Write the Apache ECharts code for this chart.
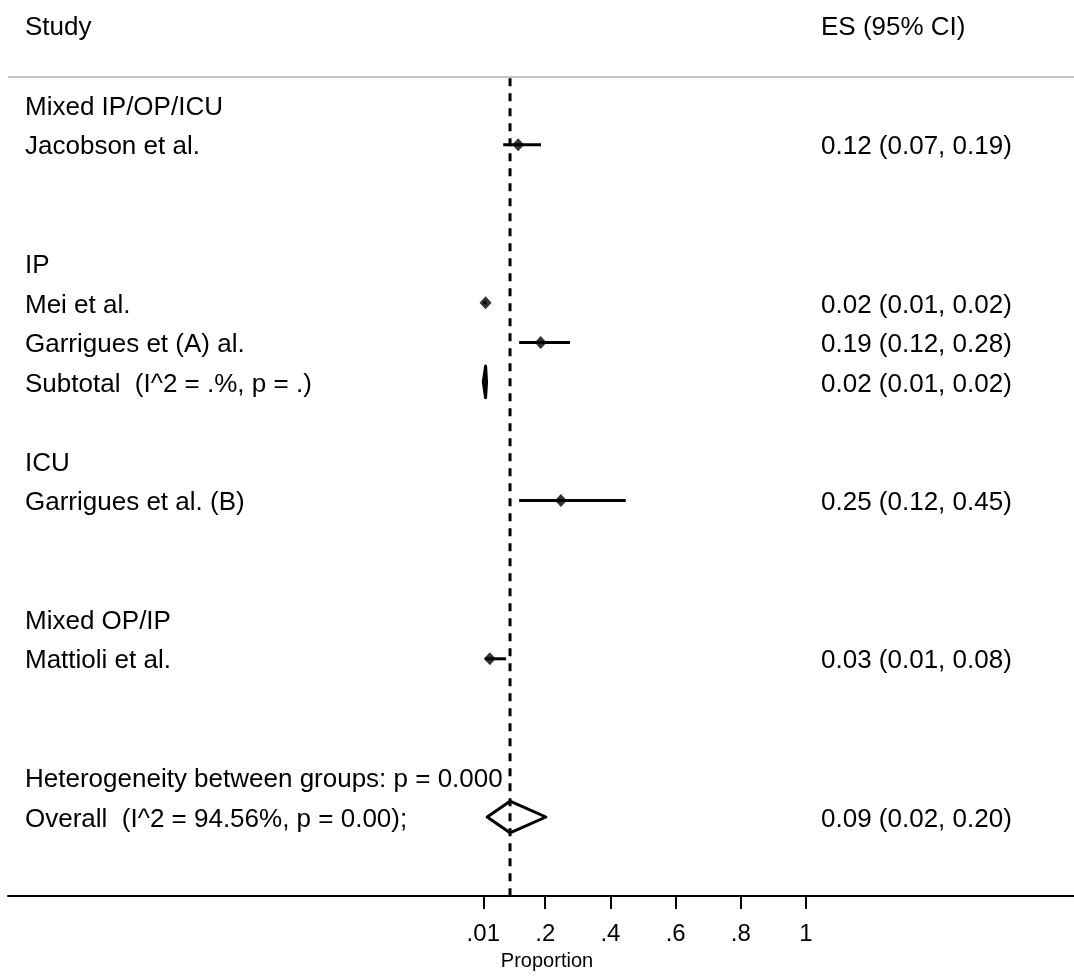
<!DOCTYPE html>
<html>
<head>
<meta charset="utf-8">
<script src="https://cdn.jsdelivr.net/npm/echarts@6/dist/echarts.min.js"></script>
<style>
html,body{margin:0;padding:0;background:#fff;}
#chart{width:1074px;height:976px;}
</style>
</head>
<body>
<div id="chart"></div>
<script>
// ---- data ----
const labelTexts = [
  'Mixed IP/OP/ICU', 'Jacobson et al.', 'IP', 'Mei et al.', 'Garrigues et (A) al.',
  'Subtotal  (I^2 = .%, p = .)', 'ICU', 'Garrigues et al. (B)', 'Mixed OP/IP',
  'Mattioli et al.', 'Heterogeneity between groups: p = 0.000', 'Overall  (I^2 = 94.56%, p = 0.00);'
];
const labelRows = [0, 1, 4, 5, 6, 7, 9, 10, 13, 14, 17, 18];
const esTexts = [
  '', '0.12 (0.07, 0.19)', '', '0.02 (0.01, 0.02)', '0.19 (0.12, 0.28)',
  '0.02 (0.01, 0.02)', '', '0.25 (0.12, 0.45)', '', '0.03 (0.01, 0.08)', '', '0.09 (0.02, 0.20)'
];

const studyRows = [1, 5, 6, 10, 14];
const studyES = [0.117, 0.017, 0.186, 0.248, 0.030];
const studyLo = [0.071, 0.010, 0.120, 0.120, 0.015];
const studyHi = [0.187, 0.020, 0.276, 0.447, 0.080];

const pooledRows = [7, 18];
const pooledES = [0.017, 0.092];
const pooledLo = [0.010, 0.022];
const pooledHi = [0.020, 0.202];

const overallES = 0.092;
const tickValues = [0.01, 0.2, 0.4, 0.6, 0.8, 1];
const tickLabels = ['.01', '.2', '.4', '.6', '.8', '1'];

// ---- chart ----
const FONT = '"Liberation Sans", Arial, Helvetica, sans-serif';
const chart = echarts.init(document.getElementById('chart'), null, {renderer: 'canvas'});

const ciData = studyRows.map((r, i) => [r, studyLo[i], studyHi[i]]);
const pointData = studyRows.map((r, i) => [studyES[i], r]);
const diamondData = pooledRows.map((r, i) => [r, pooledLo[i], pooledES[i], pooledHi[i]]);
const textData = labelRows.map((r, i) => [r, i]);

const option = {
  animation: false,
  backgroundColor: '#fff',
  grid: {left: 8, right: 0, top: 6.2, bottom: 72, containLabel: false},
  xAxis: {
    type: 'value',
    min: -1.448,
    max: 1.822,
    splitLine: {show: false},
    axisLine: {show: true, onZero: false, lineStyle: {color: '#000', width: 2}},
    axisTick: {show: true, customValues: tickValues, length: 13, lineStyle: {color: '#000', width: 2}},
    axisLabel: {
      show: true, customValues: tickValues, margin: 26,
      color: '#000', fontSize: 24, fontFamily: FONT,
      formatter: v => { const k = tickValues.findIndex(t => Math.abs(t - v) < 1e-9); return k >= 0 ? tickLabels[k] : ''; }
    },
    name: 'Proportion',
    nameLocation: 'middle',
    nameGap: 53,
    nameTextStyle: {color: '#000', fontSize: 20, fontFamily: FONT, padding: [0, 0, 0, 12]}
  },
  yAxis: {
    type: 'value', inverse: true, min: -2.5, max: 20, show: false
  },
  graphic: [
    {type: 'text', left: 25, top: 15, style: {text: 'Study', fontSize: 26, fontFamily: FONT, fill: '#000'}},
    {type: 'text', left: 821, top: 15, style: {text: 'ES (95% CI)', fontSize: 26, fontFamily: FONT, fill: '#000'}},
    {type: 'line', shape: {x1: 8, y1: 77, x2: 1074, y2: 77}, style: {stroke: '#c4c4c4', lineWidth: 2}}
  ],
  series: [
    {
      type: 'custom', name: 'overallLine',
      data: [[overallES]],
      renderItem: (params, api) => {
        const p1 = api.coord([api.value(0), -0.68]);
        const p2 = api.coord([api.value(0), 20]);
        return {type: 'line', shape: {x1: p1[0], y1: p1[1], x2: p2[0], y2: p2[1]},
          style: {stroke: '#000', lineWidth: 3, lineDash: [8, 7]}};
      },
      z: 1
    },
    {
      type: 'custom', name: 'ci',
      data: ciData,
      renderItem: (params, api) => {
        const a = api.coord([api.value(1), api.value(0)]);
        const b = api.coord([api.value(2), api.value(0)]);
        return {type: 'line', shape: {x1: a[0], y1: a[1], x2: b[0], y2: b[1]},
          style: {stroke: '#000', lineWidth: 3}};
      },
      z: 2
    },
    {
      type: 'scatter', name: 'es',
      data: pointData,
      symbol: 'diamond', symbolSize: [12, 13],
      itemStyle: {color: '#000'},
      z: 3
    },
    {
      type: 'custom', name: 'pooled',
      data: diamondData,
      renderItem: (params, api) => {
        const r = api.value(0);
        const L = api.coord([api.value(1), r]);
        const R = api.coord([api.value(3), r]);
        const T = api.coord([api.value(2), r - 0.4]);
        const B = api.coord([api.value(2), r + 0.4]);
        return {type: 'polygon', shape: {points: [[L[0], L[1]], [T[0], T[1]], [R[0], R[1]], [B[0], B[1]]]},
          style: {fill: 'none', stroke: '#000', lineWidth: 3, lineJoin: 'round'}};
      },
      z: 3
    },
    {
      type: 'custom', name: 'texts',
      data: textData,
      renderItem: (params, api) => {
        const i = api.value(1);
        const y = api.coord([0, api.value(0)])[1] + 2.5;
        const children = [{type: 'text', x: 25, y: y,
          style: {text: labelTexts[i], fontSize: 26, fontFamily: FONT, fill: '#000', align: 'left', verticalAlign: 'middle'}}];
        if (esTexts[i]) {
          children.push({type: 'text', x: 821, y: y,
            style: {text: esTexts[i], fontSize: 26, fontFamily: FONT, fill: '#000', align: 'left', verticalAlign: 'middle'}});
        }
        return {type: 'group', children: children};
      },
      z: 4
    }
  ]
};
chart.setOption(option);
</script>
</body>
</html>
